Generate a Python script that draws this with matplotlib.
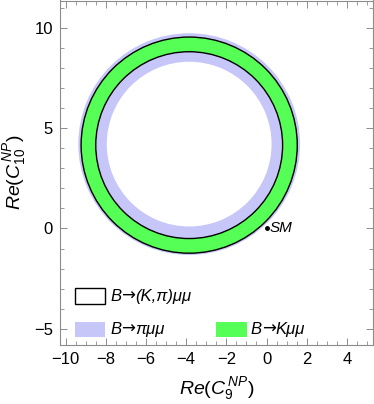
import numpy as np
import matplotlib
matplotlib.use('Agg')
import matplotlib.pyplot as plt
from matplotlib.patches import Wedge, Circle, Rectangle
from matplotlib.ticker import MultipleLocator
from matplotlib.offsetbox import TextArea, HPacker, AnchoredOffsetbox

plt.rcParams['font.family'] = ['Liberation Sans', 'DejaVu Sans']
plt.rcParams['mathtext.fontset'] = 'custom'
plt.rcParams['mathtext.rm'] = 'Liberation Sans'
plt.rcParams['mathtext.it'] = 'Liberation Sans:italic'

# ring regions: centre (C9, C10), inner and outer radius
pi_center = (-3.85, 4.2)
pi_radii = (4.1, 5.52)
k_center = (-3.85, 4.15)
k_radii = (4.65, 5.38)
sm_point = (0.0, 0.0)

legend_labels = [('B', '(K,\u03c0)\u03bc\u03bc'), ('B', '\u03c0\u03bc\u03bc'), ('B', 'K\u03bc\u03bc')]

xlim = (-10.28, 5.3)
ylim = (-5.8, 11.35)

col_pi = '#c6c6f9'
col_k = '#55ff55'
col_frame = '#8c8c8c'

fig = plt.figure(figsize=(3.74, 4.04), dpi=100, facecolor='white')
ax = fig.add_axes([60 / 374, 59 / 404, 313 / 374, 344.5 / 404])

# B -> pi mu mu band
ax.add_patch(Wedge(pi_center, pi_radii[1], 0, 360, width=pi_radii[1] - pi_radii[0],
                   facecolor=col_pi, edgecolor='none'))
# B -> K mu mu band
ax.add_patch(Wedge(k_center, k_radii[1], 0, 360, width=k_radii[1] - k_radii[0],
                   facecolor=col_k, edgecolor='none'))
# combined contour
for r in k_radii:
    ax.add_patch(Circle(k_center, r, fill=False, edgecolor='black', lw=1.0))

ax.plot(*sm_point, 'o', color='black', ms=2.5)
ax.text(sm_point[0] + 0.15, sm_point[1], 'SM', fontsize=11, style='italic',
        va='center', ha='left')

ax.set_xlim(*xlim)
ax.set_ylim(*ylim)

ax.xaxis.set_major_locator(MultipleLocator(2))
ax.xaxis.set_minor_locator(MultipleLocator(0.5))
ax.yaxis.set_major_locator(MultipleLocator(5))
ax.yaxis.set_minor_locator(MultipleLocator(1))
ax.tick_params(which='both', direction='in', top=True, right=True, color=col_frame)
ax.tick_params(which='major', length=5, width=0.7, labelsize=12, pad=5)
ax.tick_params(which='minor', length=3, width=0.6)
ax.set_xticklabels([f'{v:g}'.replace('-', '\u2212') for v in ax.get_xticks()])
ax.set_yticklabels([f'{v:g}'.replace('-', '\u2212') for v in ax.get_yticks()])
for s in ax.spines.values():
    s.set_color(col_frame)
    s.set_linewidth(0.8)

ax.set_xlabel(r'$Re(C_9^{\,NP})$', fontsize=14, labelpad=6)
ax.set_ylabel(r'$Re(C_{10}^{\,NP})$', fontsize=14, labelpad=4)


def legend_text(parts, x, y):
    it = dict(fontsize=12, style='italic', family='Liberation Sans')
    arrow = dict(fontsize=12, family='DejaVu Sans')
    box = HPacker(children=[TextArea(parts[0], textprops=it),
                            TextArea('\u2192', textprops=arrow),
                            TextArea(parts[1], textprops=it)],
                  align='baseline', pad=0, sep=0)
    ab = AnchoredOffsetbox(loc='center left', child=box, pad=0, borderpad=0,
                           frameon=False, bbox_to_anchor=(x, y),
                           bbox_transform=ax.transAxes)
    ax.add_artist(ab)


# legend
ax.add_patch(Rectangle((0.048, 0.119), 0.096, 0.046, transform=ax.transAxes,
                       facecolor='white', edgecolor='black', lw=1.0))
legend_text(legend_labels[0], 0.160, 0.142)
ax.add_patch(Rectangle((0.048, 0.024), 0.096, 0.044, transform=ax.transAxes,
                       facecolor=col_pi, edgecolor='none'))
legend_text(legend_labels[1], 0.160, 0.046)
ax.add_patch(Rectangle((0.498, 0.024), 0.098, 0.044, transform=ax.transAxes,
                       facecolor=col_k, edgecolor='none'))
legend_text(legend_labels[2], 0.610, 0.046)

fig.savefig('out.png', dpi=100, facecolor='white')
